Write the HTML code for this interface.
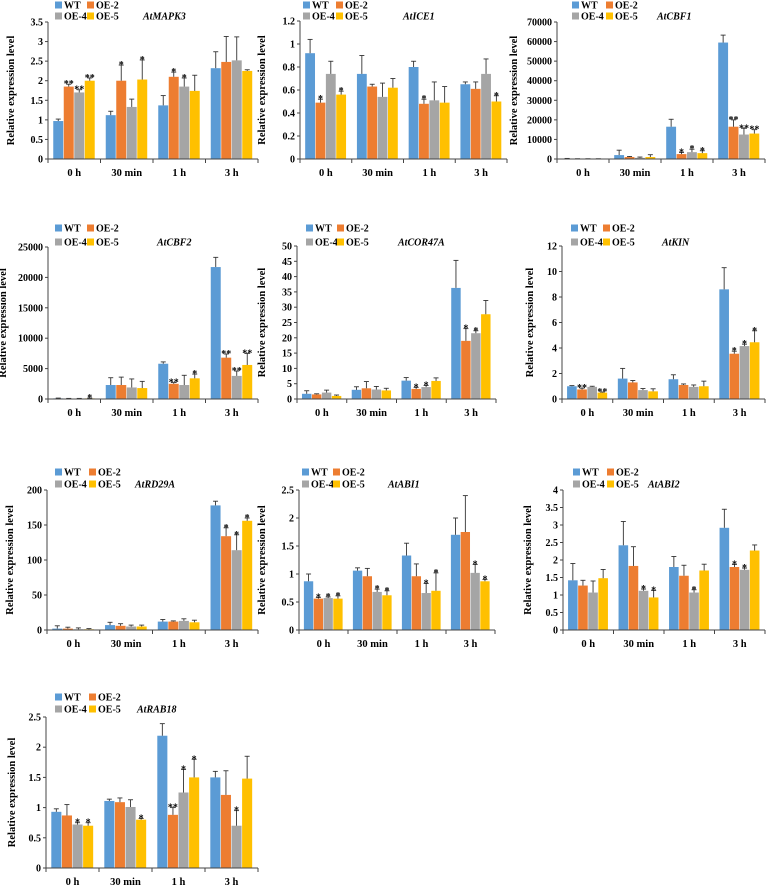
<!DOCTYPE html>
<html><head><meta charset="utf-8"><style>
html,body{margin:0;padding:0;background:#fff}
svg{display:block}
text{font-family:"Liberation Serif",serif;font-weight:bold;fill:#000}
</style></head><body>
<svg id="fig" width="768" height="886" viewBox="0 0 768 886" xmlns="http://www.w3.org/2000/svg"></svg>
<script>
const timePoints = ['0 h','30 min','1 h','3 h'];
const seriesNames = ['WT','OE-2','OE-4','OE-5'];
const seriesColors = ['#5b9bd5','#ed7d31','#a5a5a5','#ffc000'];

// AtMAPK3
const mapk3Ticks = [0,0.5,1,1.5,2,2.5,3,3.5];
const mapk3Vals = [[0.97,1.12,1.37,2.32],[1.85,2.0,2.1,2.48],[1.7,1.33,1.85,2.52],[2.0,2.03,1.74,2.25]];
const mapk3Err = [[0.05,0.1,0.25,0.42],[0.06,0.4,0.12,0.65],[0.07,0.2,0.22,0.6],[0.07,0.5,0.4,0.03]];
const mapk3Sig = [['','','',''],['**','*','*',''],['**','','*',''],['**','*','','']];
// AtICE1
const ice1Ticks = [0,0.2,0.4,0.6,0.8,1,1.2];
const ice1Vals = [[0.92,0.74,0.8,0.65],[0.49,0.63,0.48,0.61],[0.74,0.54,0.51,0.74],[0.56,0.62,0.49,0.5]];
const ice1Err = [[0.12,0.16,0.05,0.02],[0.03,0.02,0.04,0.06],[0.11,0.12,0.16,0.13],[0.03,0.08,0.14,0.05]];
const ice1Sig = [['','','',''],['*','','*',''],['','','',''],['*','','','*']];
// AtCBF1
const cbf1Ticks = [0,10000,20000,30000,40000,50000,60000,70000];
const cbf1Vals = [[200,2000,16500,59500],[100,1000,2500,16500],[100,600,3500,12500],[100,1000,3000,13000]];
const cbf1Err = [[100,2500,3800,3800],[50,300,800,3500],[50,400,1500,3200],[50,1200,1200,2000]];
const cbf1Sig = [['','','',''],['','','*','**'],['','','*','**'],['','','*','**']];
// AtCBF2
const cbf2Ticks = [0,5000,10000,15000,20000,25000];
const cbf2Vals = [[100,2300,5800,21700],[50,2300,2500,6800],[50,1900,2300,3800],[100,1800,3400,5600]];
const cbf2Err = [[50,1200,300,1600],[50,1300,200,600],[50,1400,1600,800],[50,1100,700,1900]];
const cbf2Sig = [['','','',''],['','','**','**'],['','','','**'],['*','','*','**']];
// AtCOR47A
const cor47aTicks = [0,5,10,15,20,25,30,35,40,45,50];
const cor47aVals = [[1.7,3,6,36.3],[1.5,3.5,3.3,19],[2.1,3.1,3.9,21.5],[1,2.8,5.9,27.7]];
const cor47aErr = [[1,1,1,9],[0.2,2.2,0.5,4],[0.8,1,0.5,0.8],[0.3,0.7,1,4.5]];
const cor47aSig = [['','','',''],['','','*','*'],['','','*','*'],['','','','']];
// AtKIN
const kinTicks = [0,2,4,6,8,10,12];
const kinVals = [[1,1.6,1.55,8.6],[0.75,1.3,1.1,3.55],[0.95,0.7,0.95,4.15],[0.5,0.6,1.0,4.45]];
const kinErr = [[0.05,0.8,0.35,1.7],[0.1,0.15,0.08,0.2],[0.05,0.12,0.15,0.15],[0.05,0.2,0.4,0.9]];
const kinSig = [['','','',''],['**','','','*'],['','','','*'],['**','','','*']];
// AtRD29A
const rd29aTicks = [0,50,100,150,200];
const rd29aVals = [[2,7,12,178],[2,6,12,134],[1,5,13,114],[1,5,11,156]];
const rd29aErr = [[4,4,3,6],[2,3,1,12],[2,2,3,22],[1,2,3,4]];
const rd29aSig = [['','','',''],['','','','*'],['','','','*'],['','','','*']];
// AtABI1
const abi1Ticks = [0,0.5,1,1.5,2,2.5];
const abi1Vals = [[0.87,1.06,1.33,1.7],[0.56,0.96,0.96,1.75],[0.57,0.68,0.66,1.02],[0.56,0.62,0.7,0.87]];
const abi1Err = [[0.13,0.05,0.22,0.3],[0.02,0.14,0.22,0.65],[0.02,0.05,0.17,0.15],[0.05,0.08,0.32,0.03]];
const abi1Sig = [['','','',''],['*','','',''],['*','*','*','*'],['*','*','*','*']];
// AtABI2
const abi2Ticks = [0,0.5,1,1.5,2,2.5,3,3.5,4];
const abi2Vals = [[1.42,2.42,1.8,2.92],[1.27,1.83,1.55,1.8],[1.07,1.12,1.07,1.72],[1.48,0.93,1.7,2.27]];
const abi2Err = [[0.48,0.68,0.3,0.53],[0.15,0.55,0.3,0.07],[0.33,0.05,0.08,0.05],[0.25,0.2,0.18,0.16]];
const abi2Sig = [['','','',''],['','','','*'],['','*','*','*'],['','*','','']];
// AtRAB18
const rab18Ticks = [0,0.5,1,1.5,2,2.5];
const rab18Vals = [[0.93,1.11,2.19,1.5],[0.87,1.09,0.88,1.21],[0.72,1.01,1.25,0.7],[0.7,0.8,1.5,1.48]];
const rab18Err = [[0.05,0.03,0.2,0.1],[0.18,0.07,0.12,0.4],[0.03,0.12,0.38,0.25],[0.05,0.02,0.3,0.37]];
const rab18Sig = [['','','',''],['','','**',''],['*','','*','*'],['*','*','*','']];

const NS = 'http://www.w3.org/2000/svg';
const svg = document.getElementById('fig');
function mk(tag, attrs, parent, txt){
  const e = document.createElementNS(NS, tag);
  for (const k in attrs) e.setAttribute(k, attrs[k]);
  if (txt !== undefined) e.textContent = txt;
  (parent||svg).appendChild(e);
  return e;
}
function panel(p){
  const g = mk('g', {});
  
  
  const max = p.ticks[p.ticks.length-1];
  const yS = v => p.y0 - (v/max)*(p.y0 - p.yTop);
  const gw = (p.x1 - p.ax)/4;
  const xG = i => p.ax + i*gw;
  const yl = mk('text', {x:p.ylx, y:(p.y0+p.yTop)/2, 'font-size':10.5, 'text-anchor':'middle', transform:'rotate(-90 '+p.ylx+' '+((p.y0+p.yTop)/2)+')'}, g, 'Relative expression level');
  
  
  p.ticks.forEach(t => {
    const y = yS(t);
    mk('line', {x1:p.ax-3, x2:p.ax, y1:y, y2:y, stroke:'#444', 'stroke-width':1}, g);
    const tl = mk('text', {x:p.ax-5, y:y+3.5, 'font-size':10, 'text-anchor':'end'}, g, String(t));
    
    
  });
  for (let s=0; s<4; s++){
    for (let i=0; i<4; i++){
      const v = p.vals[s][i], e = p.err[s][i];
      const bx = xG(i) + gw*0.1 + s*gw*0.2;
      const bw = gw*0.19;
      const b = mk('rect', {x:bx, y:yS(v), width:bw, height:p.y0 - yS(v), fill:seriesColors[s]}, g);
      
      
      const cx = bx + bw/2, ey = yS(v+e);
      mk('line', {x1:cx, x2:cx, y1:yS(v), y2:ey, stroke:'#333', 'stroke-width':0.9}, g);
      mk('line', {x1:cx-2.5, x2:cx+2.5, y1:ey, y2:ey, stroke:'#333', 'stroke-width':0.9}, g);
      const sg = p.sig[s][i];
      if (sg){
        const st = mk('text', {x:cx, y:ey+3, 'font-size':10, 'text-anchor':'middle'}, g, sg);
        
        
      }
    }
  }
  mk('line', {x1:p.ax, x2:p.ax, y1:p.yTop, y2:p.y0, stroke:'#444', 'stroke-width':1}, g);
  mk('line', {x1:p.ax, x2:p.x1, y1:p.y0, y2:p.y0, stroke:'#444', 'stroke-width':1}, g);
  for (let i=0;i<=4;i++) mk('line', {x1:xG(i), x2:xG(i), y1:p.y0, y2:p.y0+4, stroke:'#444', 'stroke-width':1}, g);
  timePoints.forEach((t,i) => {
    const xl = mk('text', {x:xG(i)+gw/2, y:p.y0+17, 'font-size':10.5, 'text-anchor':'middle'}, g, t);
    
    
  });
  const lx = [p.lx1, p.lx2, p.lx1, p.lx2], ly = [p.ly1, p.ly1, p.ly2, p.ly2];
  for (let s=0;s<4;s++){
    const le = mk('g', {}, g);
    
    
    mk('rect', {x:lx[s], y:ly[s]-3.5, width:7, height:7, fill:seriesColors[s]}, le);
    mk('text', {x:lx[s]+9, y:ly[s]+3.5, 'font-size':10}, le, seriesNames[s]);
  }
  const ti = mk('text', {x:p.tx, y:p.ly2+3.5, 'font-size':10, 'font-style':'italic'}, g, p.title);
  
  
}
panel({id:'atmapk3', title:'AtMAPK3', ticks:mapk3Ticks, vals:mapk3Vals, err:mapk3Err, sig:mapk3Sig, ax:48, x1:258, yTop:22, y0:159, ylx:14, lx1:55, lx2:87, ly1:5, ly2:16, tx:143});
panel({id:'atice1', title:'AtICE1', ticks:ice1Ticks, vals:ice1Vals, err:ice1Err, sig:ice1Sig, ax:300, x1:507, yTop:21, y0:159, ylx:265, lx1:303, lx2:336, ly1:5, ly2:16, tx:403});
panel({id:'atcbf1', title:'AtCBF1', ticks:cbf1Ticks, vals:cbf1Vals, err:cbf1Err, sig:cbf1Sig, ax:557, x1:765, yTop:22, y0:159, ylx:517, lx1:572, lx2:606, ly1:5, ly2:16, tx:657});
panel({id:'atcbf2', title:'AtCBF2', ticks:cbf2Ticks, vals:cbf2Vals, err:cbf2Err, sig:cbf2Sig, ax:48, x1:258, yTop:247, y0:399, ylx:6, lx1:55, lx2:87, ly1:228, ly2:242, tx:157});
panel({id:'atcor47a', title:'AtCOR47A', ticks:cor47aTicks, vals:cor47aVals, err:cor47aErr, sig:cor47aSig, ax:297, x1:496, yTop:246, y0:399, ylx:265, lx1:306, lx2:337, ly1:228, ly2:242, tx:398});
panel({id:'atkin', title:'AtKIN', ticks:kinTicks, vals:kinVals, err:kinErr, sig:kinSig, ax:562, x1:765, yTop:246, y0:399, ylx:533, lx1:571, lx2:603, ly1:228, ly2:242, tx:662});
panel({id:'atrd29a', title:'AtRD29A', ticks:rd29aTicks, vals:rd29aVals, err:rd29aErr, sig:rd29aSig, ax:47, x1:258, yTop:490, y0:630, ylx:13, lx1:55, lx2:89, ly1:472, ly2:484, tx:135});
panel({id:'atabi1', title:'AtABI1', ticks:abi1Ticks, vals:abi1Vals, err:abi1Err, sig:abi1Sig, ax:299, x1:495, yTop:490, y0:630, ylx:265, lx1:302, lx2:333, ly1:472, ly2:484, tx:388});
panel({id:'atabi2', title:'AtABI2', ticks:abi2Ticks, vals:abi2Vals, err:abi2Err, sig:abi2Sig, ax:563, x1:765, yTop:490, y0:630, ylx:531, lx1:573, lx2:607, ly1:472, ly2:484, tx:648});
panel({id:'atrab18', title:'AtRAB18', ticks:rab18Ticks, vals:rab18Vals, err:rab18Err, sig:rab18Sig, ax:46, x1:258, yTop:717, y0:868, ylx:15, lx1:55, lx2:89, ly1:697, ly2:709, tx:137});
</script>
</body></html>
